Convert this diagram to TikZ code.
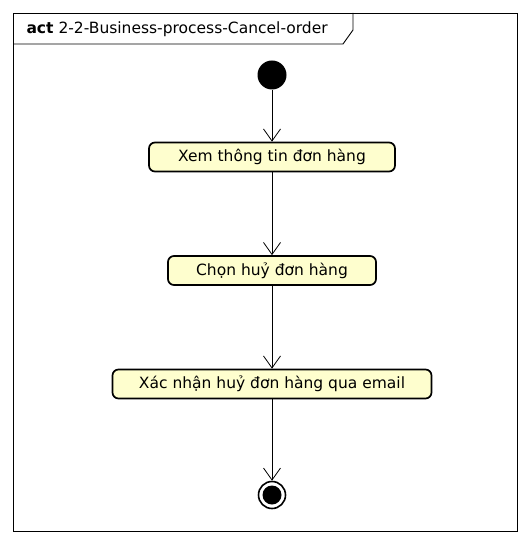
\documentclass[tikz,border=0pt]{standalone}
\usepackage{fontspec}
\setmainfont{DejaVu Sans}
\usetikzlibrary{arrows.meta,positioning}
\definecolor{actfill}{HTML}{FEFECE}

\begin{document}
\begin{tikzpicture}[x=1pt,y=-1pt,font=\fontsize{15.5}{18}\selectfont,>={Straight Barb[length=12pt,width=17pt]},
  action/.style={draw,fill=actfill,line width=1.7pt,rounded corners=6pt,minimum height=29pt,inner xsep=0pt},
  flow/.style={->,line width=0.8pt}]
\useasboundingbox (0,0) rectangle (529,545);
% Frame and title tab
\draw[line width=0.9pt] (13,13) rectangle (517,531);
\draw[line width=0.9pt] (13,44) -- (343,44) -- (353,30) -- (353,13);
\node[anchor=west,font=\fontsize{15.5}{18}\selectfont] (title) at (23,29) {\textbf{act} 2-2-Business-process-Cancel-order};

% Initial and final nodes
\node[circle,fill,minimum size=29pt,inner sep=0pt] (start) at (272,75) {};
\node[circle,draw,line width=1.6pt,minimum size=27pt,inner sep=0pt] (stop) at (272,495) {};
\fill (stop) circle (9.5pt);

% Actions
\node[action,minimum width=246pt] (view) at (272,157) {Xem thông tin đơn hàng};
\node[action,minimum width=208pt] (cancel) at (272,270.5) {Chọn huỷ đơn hàng};
\node[action,minimum width=319pt] (confirm) at (272,384) {Xác nhận huỷ đơn hàng qua email};

% Flows
\draw[flow] (start) -- (view);
\draw[flow] (view) -- (cancel);
\draw[flow] (cancel) -- (confirm);
\draw[flow] (confirm) -- (stop);
\end{tikzpicture}
\end{document}
